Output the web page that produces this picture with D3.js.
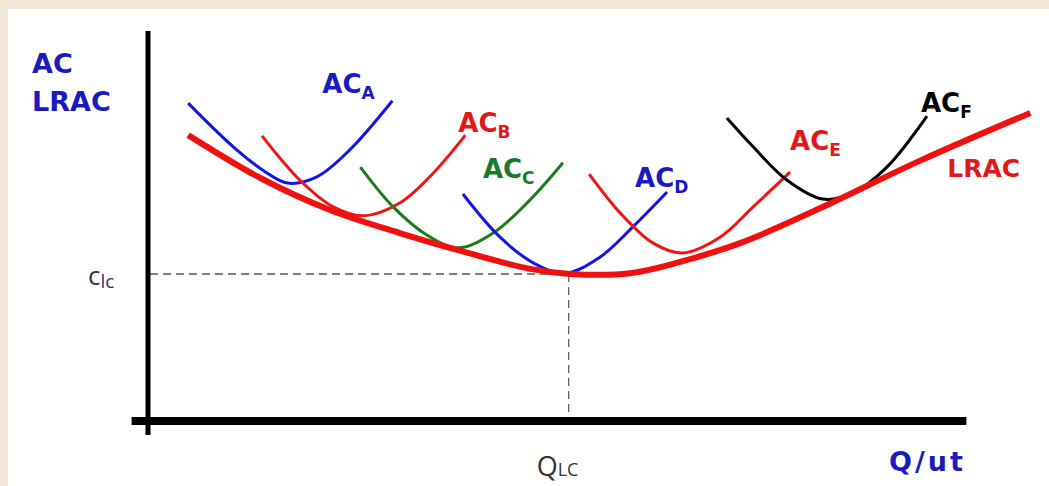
<!DOCTYPE html>
<html>
<head>
<meta charset="utf-8">
<script src="https://cdn.jsdelivr.net/npm/d3@7"></script>
<style>
  html, body { margin: 0; padding: 0; background: #f3e7da; }
  svg { display: block; }
</style>
</head>
<body>
<div id="chart"></div>
<script>
// quantity (Q/ut) and average cost
const lracQ = [4.9, 13.7, 22.2, 30.7, 38.7, 46.6, 51.5, 58.8, 64.9, 72.2, 82.0, 94.1, 107.6]
const lracC = [73.3, 62.3, 54.1, 48.2, 43.3, 39.0, 37.7, 37.9, 40.8, 45.6, 54.6, 66.7, 79.0]

const acAQ = [4.9, 10.4, 14.5, 17.0, 20.6, 24.6, 29.8]
const acAC = [81.5, 70.3, 63.6, 61.0, 62.6, 69.5, 82.1]
const acBQ = [13.9, 18.5, 22.6, 26.2, 30.7, 34.8, 38.7]
const acBC = [73.1, 61.8, 54.9, 52.6, 55.9, 63.6, 73.3]
const acCQ = [25.9, 29.9, 34.0, 37.8, 42.1, 46.6, 50.6]
const acCC = [65.1, 54.9, 47.7, 44.4, 48.2, 56.7, 66.2]
const acDQ = [38.4, 42.9, 47.2, 50.9, 55.1, 59.1, 63.3]
const acDC = [58.2, 47.2, 40.3, 37.9, 42.0, 49.7, 58.7]
const acEQ = [53.8, 57.6, 61.6, 65.2, 69.8, 73.8, 78.3]
const acEC = [63.3, 53.3, 45.6, 43.1, 47.2, 54.9, 63.8]
const acFQ = [70.6, 73.8, 77.9, 82.3, 86.0, 90.1, 95.0]
const acFC = [77.7, 70.3, 61.8, 56.9, 58.5, 65.1, 78.2]

const curveNames = ["A", "B", "C", "D", "E", "F"]

// long-run minimum
const qLC = 51.3
const cLC = 37.7

const width = 1049
const height = 486

const x = d3.scaleLinear().domain([0, 100]).range([148, 968])
const y = d3.scaleLinear().domain([0, 100]).range([421, 31])

const svg = d3.select("#chart")
    .append("svg")
    .attr("width", width)
    .attr("height", height)

// white panel
svg.append("rect")
    .attr("x", 8)
    .attr("y", 9)
    .attr("width", width - 8)
    .attr("height", height - 9)
    .attr("fill", "#ffffff")

const line = d3.line()
    .x(d => x(d[0]))
    .y(d => y(d[1]))
    .curve(d3.curveCatmullRom.alpha(0.5))

const zip = (qs, cs) => qs.map((q, i) => [q, cs[i]])

// dashed guides
svg.append("line")
    .attr("x1", x(0) + 2).attr("x2", x(qLC))
    .attr("y1", y(cLC)).attr("y2", y(cLC))
    .attr("stroke", "#555").attr("stroke-width", 1.5)
    .attr("stroke-dasharray", "8,5")
svg.append("line")
    .attr("x1", x(qLC)).attr("x2", x(qLC))
    .attr("y1", y(cLC)).attr("y2", y(0))
    .attr("stroke", "#555").attr("stroke-width", 1.2)
    .attr("stroke-dasharray", "8,5")

// axes
svg.append("line")
    .attr("x1", x(0)).attr("x2", x(0))
    .attr("y1", y(100)).attr("y2", y(-3.6))
    .attr("stroke", "#000").attr("stroke-width", 5)
svg.append("line")
    .attr("x1", x(-2)).attr("x2", x(99.8))
    .attr("y1", y(0)).attr("y2", y(0))
    .attr("stroke", "#000").attr("stroke-width", 8)

// short-run AC curves
const shortRun = [
    { pts: zip(acAQ, acAC), color: "#1414e6", text: "#1a1ac0", dx: -70, dy: -8 },
    { pts: zip(acBQ, acBC), color: "#f01414", text: "#e01818", dx: -7, dy: -3 },
    { pts: zip(acCQ, acCC), color: "#1a7d1a", text: "#1a7a2a", dx: -80, dy: 15 },
    { pts: zip(acDQ, acDC), color: "#1414e6", text: "#1a1ac0", dx: -32, dy: -5 },
    { pts: zip(acEQ, acEC), color: "#f01414", text: "#e01818", dx: 0, dy: -22 },
    { pts: zip(acFQ, acFC), color: "#000000", text: "#000000", dx: -6, dy: -4 }
].map((d, i) => Object.assign(d, { name: curveNames[i] }))

svg.selectAll("path.ac")
    .data(shortRun)
    .enter()
    .append("path")
    .attr("class", "ac")
    .attr("d", d => line(d.pts))
    .attr("fill", "none")
    .attr("stroke", d => d.color)
    .attr("stroke-width", 3)

// LRAC
const lracPts = zip(lracQ, lracC)
svg.append("path")
    .attr("d", line(lracPts))
    .attr("fill", "none")
    .attr("stroke", "#f01010")
    .attr("stroke-width", 6)

// curve labels
const labels = svg.selectAll("text.ac")
    .data(shortRun)
    .enter()
    .append("text")
    .attr("class", "ac")
    .attr("x", d => x(d.pts[d.pts.length - 1][0]) + d.dx)
    .attr("y", d => y(d.pts[d.pts.length - 1][1]) + d.dy)
    .attr("fill", d => d.text)
    .attr("font-family", "DejaVu Sans")
    .attr("font-weight", "bold")
    .attr("font-size", 26)
labels.append("tspan").text("AC")
labels.append("tspan")
    .attr("font-size", 17)
    .attr("dy", 6)
    .text(d => d.name)

const last = lracPts[lracPts.length - 1]
svg.append("text")
    .attr("x", x(last[0]) - 83)
    .attr("y", y(last[1]) + 64)
    .attr("fill", "#e01818")
    .attr("font-family", "DejaVu Sans")
    .attr("font-weight", "bold")
    .attr("font-size", 25)
    .text("LRAC")

// axis titles
const yTitle = svg.append("text")
    .attr("x", 32)
    .attr("font-family", "DejaVu Sans")
    .attr("font-weight", "bold")
    .attr("font-size", 27)
    .attr("fill", "#1a1ac0")
yTitle.append("tspan").attr("x", 32).attr("y", 73).text("AC")
yTitle.append("tspan").attr("x", 32).attr("y", 111).text("LRAC")

svg.append("text")
    .attr("x", 889)
    .attr("y", 471)
    .attr("font-family", "DejaVu Sans")
    .attr("font-weight", "bold")
    .attr("font-size", 27)
    .attr("letter-spacing", 3)
    .attr("fill", "#1a1ac0")
    .text("Q/ut")

// c_lc and Q_LC
const cText = svg.append("text")
    .attr("x", 88)
    .attr("y", y(cLC) + 11)
    .attr("font-family", "Open Sans")
    .attr("font-size", 26)
    .attr("fill", "#333344")
cText.append("tspan").text("c")
cText.append("tspan").attr("font-size", 19).attr("dy", 3).attr("fill", "#333366").text("lc")

const qText = svg.append("text")
    .attr("x", x(qLC) - 32)
    .attr("y", 476)
    .attr("font-family", "Open Sans")
    .attr("font-size", 27)
    .attr("fill", "#333333")
qText.append("tspan").text("Q")
qText.append("tspan").attr("font-size", 18).text("LC")
</script>
</body>
</html>
